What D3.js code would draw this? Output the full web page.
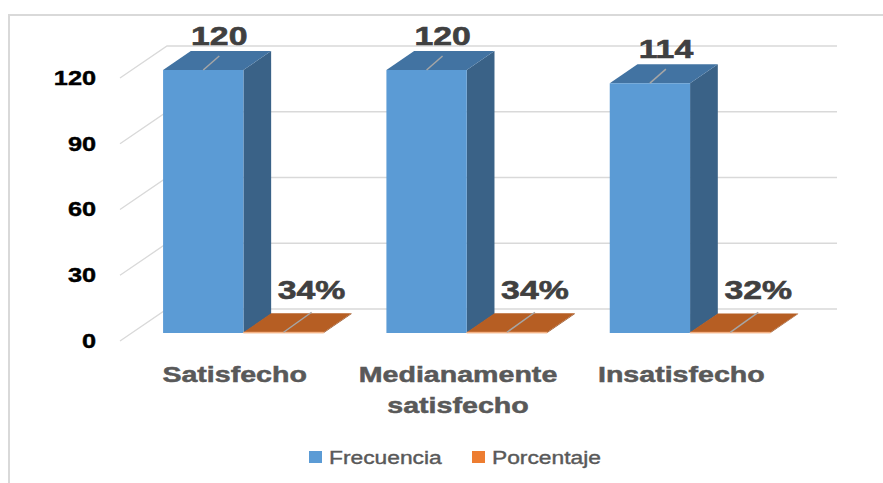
<!DOCTYPE html>
<html lang="es">
<head>
<meta charset="utf-8">
<title>Frecuencia y Porcentaje</title>
<style>
  body { margin: 0; background: #fff; }
  text { font-family: "Liberation Sans", Arial, sans-serif; }
</style>
</head>
<body>
<script src="https://cdn.jsdelivr.net/npm/d3@7"></script>
<script>
// chart data
var categories = ["Satisfecho", "Medianamente satisfecho", "Insatisfecho"];
var series = ["Frecuencia", "Porcentaje"];
var frecuencia = [120, 120, 114];
var porcentaje = [0.34, 0.34, 0.32];
var yTicks = [0, 30, 60, 90, 120];

var width = 883, height = 483;
var stretch = 1.3;          // text in the source is drawn wide
var depthX = 47, depthY = 32;   // 3d floor depth
var barFront = 0.25, barBack = 0.84;

var colors = {
  Frecuencia: { front: "#5b9bd5", top: "#4273a2", side: "#3a6287", legend: "#5b9bd5" },
  Porcentaje: { front: "#f4b183", top: "#b65e23", side: "#8a4519", legend: "#ed7d31" }
};

var svg = d3.select("body").append("svg")
  .attr("width", width).attr("height", height);

// outer frame
svg.append("rect")
  .attr("x", 9).attr("y", 15).attr("width", 900).attr("height", 500)
  .attr("fill", "none").attr("stroke", "#d9d9d9").attr("stroke-width", 2);

var y = d3.scaleLinear().domain([0, 120]).range([341, 78]);
var x0 = d3.scaleBand().domain(categories).range([120, 790]).padding(0);
var x1 = d3.scaleBand().domain(series).range([0, x0.bandwidth()])
  .paddingInner(0).paddingOuter(0.39);

function proj(xf, v, d) {
  return [xf + d * depthX, y(v) - d * depthY];
}

// gridlines: left wall + back wall
var grid = svg.append("g");
yTicks.forEach(function (t) {
  var a = proj(120, t, 0), b = proj(120, t, 1), c = proj(790, t, 1);
  grid.append("polyline")
    .attr("points", [a, b, c].map(function (p) { return p.join(","); }).join(" "))
    .attr("fill", "none").attr("stroke", "#d9d9d9").attr("stroke-width", 1.3);
});

// y axis labels
var yAxis = svg.append("g")
  .attr("transform", "translate(100,0)")
  .call(d3.axisLeft(y).tickValues(yTicks).tickSize(0).tickPadding(3));
yAxis.select(".domain").remove();
yAxis.selectAll("text")
  .attr("transform", "scale(" + stretch + ",1)")
  .style("font-family", "'Liberation Sans', Arial, sans-serif")
  .style("font-size", "19.5px").style("font-weight", "bold").attr("fill", "#000")
  .attr("stroke", "#000").attr("stroke-width", 0.4);

// bars
var rows = [];
categories.forEach(function (c, i) {
  rows.push({ cat: c, s: "Frecuencia", v: frecuencia[i], label: d3.format("d")(frecuencia[i]) });
  rows.push({ cat: c, s: "Porcentaje", v: porcentaje[i], label: d3.format(".0%")(porcentaje[i]) });
});

function pts(arr) { return arr.map(function (p) { return p.join(","); }).join(" "); }

var bars = svg.append("g").selectAll("g").data(rows).enter().append("g");
bars.each(function (d) {
  var g = d3.select(this);
  var xl = x0(d.cat) + x1(d.s), xr = xl + x1.bandwidth();
  var c = colors[d.s];
  var fl0 = proj(xl, 0, barFront), fr0 = proj(xr, 0, barFront);
  var flt = proj(xl, d.v, barFront), frt = proj(xr, d.v, barFront);
  var blt = proj(xl, d.v, barBack), brt = proj(xr, d.v, barBack), br0 = proj(xr, 0, barBack);
  g.append("polygon").attr("points", pts([fr0, frt, brt, br0])).attr("fill", c.side);
  g.append("polygon").attr("points", pts([flt, frt, brt, blt])).attr("fill", c.top);
  g.append("polygon").attr("points", pts([fl0, fr0, frt, flt])).attr("fill", c.front)
    .attr("stroke", d.s === "Porcentaje" ? c.front : "none").attr("stroke-width", 0.8);
});

// data labels with leader lines
bars.each(function (d) {
  var g = d3.select(this);
  var cx = x0(d.cat) + x1(d.s) + x1.bandwidth() / 2;
  var top = proj(cx, d.v, barFront);
  var isF = d.s === "Frecuencia";
  var lx = isF ? 16 : 28, ly = isF ? -14 : -20;
  g.append("line")
    .attr("x1", top[0]).attr("y1", top[1])
    .attr("x2", top[0] + lx).attr("y2", top[1] + ly)
    .attr("stroke", "#a6a6a6").attr("stroke-width", 1.5);
  g.append("text")
    .attr("transform", "translate(" + (top[0] + lx) + "," + (top[1] + (isF ? -25 : -33)) + ") scale(" + stretch + ",1)")
    .attr("text-anchor", "middle")
    .style("font-size", "26px").style("font-weight", "bold")
    .attr("fill", "#404040").attr("stroke", "#404040").attr("stroke-width", 0.6)
    .text(d.label);
});

// category labels
var catG = svg.append("g");
categories.forEach(function (c) {
  var lines = c.length > 14 ? c.split(" ") : [c];
  var cx = x0(c) + x0.bandwidth() / 2 + 3;
  lines.forEach(function (ln, k) {
    catG.append("text")
      .attr("transform", "translate(" + cx + "," + (382 + k * 31) + ") scale(" + stretch + ",1)")
      .attr("text-anchor", "middle")
      .style("font-size", "22px").style("font-weight", "bold")
      .attr("fill", "#595959").attr("stroke", "#595959").attr("stroke-width", 0.5)
      .text(ln);
  });
});

// legend
var legendX = [309, 472];
var legend = svg.append("g").selectAll("g").data(series).enter().append("g")
  .attr("transform", function (d, i) { return "translate(" + legendX[i] + ",451)"; });
legend.append("rect").attr("width", 13).attr("height", 12)
  .attr("fill", function (d) { return colors[d].legend; });
legend.append("text")
  .attr("transform", "translate(20,12.5) scale(1.2,1)")
  .style("font-size", "19px")
  .attr("fill", "#595959").attr("stroke", "#595959").attr("stroke-width", 0.4)
  .text(function (d) { return d; });
</script>
</body>
</html>
